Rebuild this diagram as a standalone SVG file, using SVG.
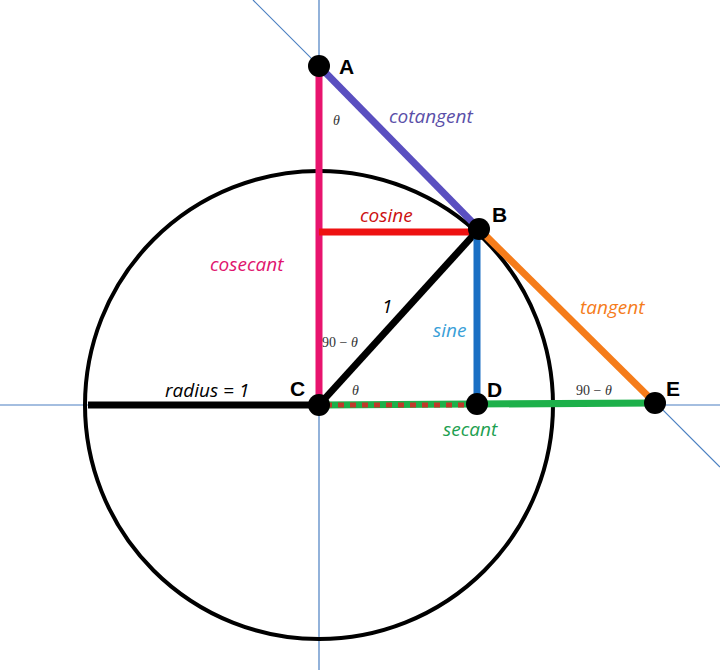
<svg xmlns="http://www.w3.org/2000/svg" width="720" height="670" viewBox="0 0 720 670">
<style>
.ax{stroke:#4a7fc1;stroke-width:1.2;fill:none}
.seg{stroke-width:7;fill:none}
.lbl{font-family:"Open Sans","Liberation Sans",sans-serif;font-style:italic;font-size:19px}
.pt{font-family:"Liberation Sans",sans-serif;font-weight:bold;font-size:21px;fill:#000}
.ang{font-family:"Liberation Serif",serif;font-size:14px;fill:#333}
</style>
<rect width="720" height="670" fill="#fff"/>
<g id="axes">
<line class="ax" x1="319" y1="0" x2="319" y2="670"/>
<line class="ax" x1="0" y1="405" x2="720" y2="405"/>
<line class="ax" x1="253" y1="0" x2="720" y2="467"/>
</g>
<g id="circle"><circle cx="319" cy="405" r="234" fill="none" stroke="#000" stroke-width="4"/></g>
<g id="connectors">
<line class="seg" stroke="#000" x1="88" y1="405" x2="319" y2="405"/>
<line class="seg" stroke="#e8146e" x1="319" y1="66" x2="319" y2="405"/>
<line class="seg" stroke="#5a4fc0" x1="319" y1="66" x2="479" y2="229"/>
<line class="seg" stroke="#ee1111" x1="319" y1="232" x2="479" y2="232"/>
<line class="seg" stroke="#000" x1="319" y1="405" x2="479" y2="229"/>
<line class="seg" stroke="#1a6fc4" x1="477" y1="229" x2="477" y2="404"/>
<line class="seg" stroke="#f57c1a" x1="479" y1="229" x2="655" y2="403"/>
<line class="seg" stroke="#1db04a" x1="319" y1="405" x2="655" y2="403"/>
<line stroke="#c0392b" stroke-width="5" stroke-dasharray="6,6" x1="326" y1="405" x2="470" y2="405"/>
</g>
<g id="nodes">
<g id="A"><circle cx="319" cy="66" r="11"/><text class="pt" x="339" y="74">A</text></g>
<g id="B"><circle cx="479" cy="229" r="11"/><text class="pt" x="492" y="222">B</text></g>
<g id="C"><circle cx="319" cy="405" r="11"/><text class="pt" x="290" y="396">C</text></g>
<g id="D"><circle cx="477" cy="404" r="11"/><text class="pt" x="487" y="397">D</text></g>
<g id="E"><circle cx="655" cy="403" r="11"/><text class="pt" x="666" y="396">E</text></g>
</g>
<g id="labels">
<text class="lbl" x="389" y="123" fill="#5a4fa8">cotangent</text>
<text class="lbl" x="360" y="222" fill="#cc1111">cosine</text>
<text class="lbl" x="210" y="271" fill="#e0156e">cosecant</text>
<text class="lbl" x="382" y="313" fill="#000">1</text>
<text class="lbl" x="433" y="337" fill="#3aa0d8">sine</text>
<text class="lbl" x="580" y="314" fill="#f57c1a">tangent</text>
<text class="lbl" x="165" y="397" fill="#000">radius = 1</text>
<text class="lbl" x="443" y="436" fill="#1da050">secant</text>
<text class="ang" x="333" y="125" font-style="italic">θ</text>
<text class="ang" x="322" y="347">90 − <tspan font-style="italic">θ</tspan></text>
<text class="ang" x="352" y="395" font-style="italic">θ</text>
<text class="ang" x="576" y="395">90 − <tspan font-style="italic">θ</tspan></text>
</g>
</svg>
